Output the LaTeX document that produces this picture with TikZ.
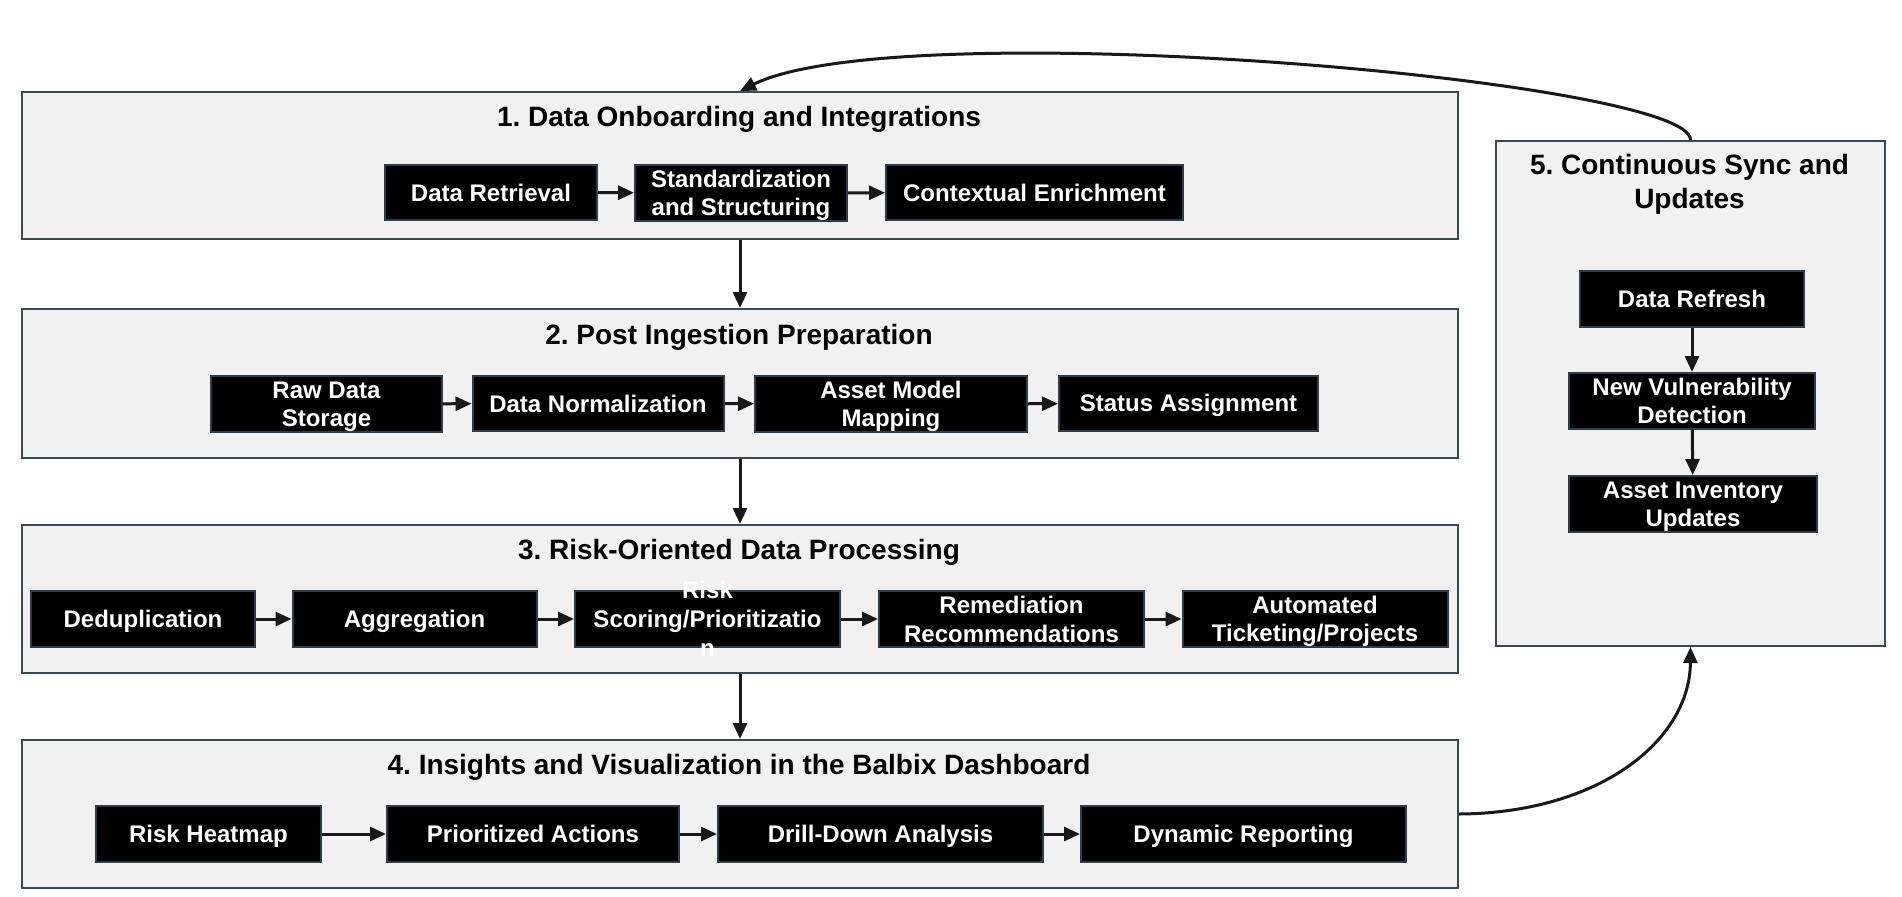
\documentclass[tikz,border=0pt]{standalone}
\usepackage{fontspec}
\setmainfont{Liberation Sans}
\usetikzlibrary{arrows.meta}
\frenchspacing
\definecolor{cfill}{HTML}{F1F1F1}
\definecolor{cborder}{HTML}{3A4A55}
\definecolor{bborder}{HTML}{2C3E4C}
\newcommand\zs{\rule[-2.4pt]{0pt}{13.4pt}}
\newcommand\zt{\rule[-2.5pt]{0pt}{15pt}}
\tikzset{
  container/.style={draw=cborder, fill=cfill, line width=1pt, rectangle, anchor=north west, inner sep=0pt},
  proc/.style={draw=bborder, fill=black, line width=1pt, rectangle, anchor=north west, inner sep=0pt,
    text=white, align=center, font=\bfseries\fontsize{12}{14.4}\selectfont},
  ptext/.style={text=white, align=center, inner sep=0pt, font=\bfseries\fontsize{12}{14.4}\selectfont},
  title/.style={align=center, inner sep=0pt, font=\bfseries\fontsize{14}{16.8}\selectfont},
  arr/.style={-{Triangle[length=8pt,width=7pt]}, line width=1.5pt, draw=black!90},
}
\begin{document}
\begin{tikzpicture}[x=0.5pt,y=-0.5pt]
\useasboundingbox (0,0) rectangle (1902,896);
% containers
\node[container, minimum width=718pt, minimum height=73.5pt] (c1) at (21,91) {};
\node[container, minimum width=718pt, minimum height=74.5pt] (c2) at (21,308) {};
\node[container, minimum width=718pt, minimum height=74pt] (c3) at (21,524) {};
\node[container, minimum width=718pt, minimum height=74pt] (c4) at (21,739) {};
\node[container, minimum width=194.5pt, minimum height=252.5pt] (c5) at (1495,140) {};
% titles
\node[title] (t1) at (739,117) {\zt 1. Data Onboarding and Integrations};
\node[title] (t2) at (739,335) {\zt 2. Post Ingestion Preparation};
\node[title] (t3) at (739,550) {\zt 3. Risk-Oriented Data Processing};
\node[title] (t4) at (739,765) {\zt 4. Insights and Visualization in the Balbix Dashboard};
\node[title] (t5) at (1689.5,182) {\zt 5. Continuous Sync and\\\zt Updates};
% row 1
\node[proc, minimum width=106pt, minimum height=27.5pt] (dr) at (384,164) {\zs Data Retrieval};
\node[proc, minimum width=106pt, minimum height=27.5pt] (ss) at (634,164) {\zs Standardization\\\zs and Structuring};
\node[proc, minimum width=148.5pt, minimum height=27.5pt] (ce) at (885,164) {\zs Contextual Enrichment};
% row 2
\node[proc, minimum width=115.5pt, minimum height=27.5pt] (rds) at (210,375) {\zs Raw Data\\\zs Storage};
\node[proc, minimum width=125.5pt, minimum height=27.5pt] (dn) at (471.5,375) {\zs Data Normalization};
\node[proc, minimum width=136pt, minimum height=27.5pt] (amm) at (754,375) {\zs Asset Model\\\zs Mapping};
\node[proc, minimum width=129.5pt, minimum height=27.5pt] (sa) at (1058,375) {\zs Status Assignment};
% row 3
\node[proc, minimum width=112pt, minimum height=28pt] (dd) at (30,590) {\zs Deduplication};
\node[proc, minimum width=122pt, minimum height=28pt] (ag) at (291.5,590) {\zs Aggregation};
\node[proc, minimum width=132.5pt, minimum height=28pt] (rsp) at (574,590) {};
\node[ptext] (rsptext) at (rsp.center) {\zs Risk\\\zs Scoring/Prioritizatio\\\zs n};
\node[proc, minimum width=132.5pt, minimum height=28pt] (rr) at (878,590) {\zs Remediation\\\zs Recommendations};
\node[proc, minimum width=132.5pt, minimum height=28pt] (atp) at (1181.5,590) {\zs Automated\\\zs Ticketing/Projects};
% row 4
\node[proc, minimum width=112.5pt, minimum height=28pt] (rh) at (95,805) {\zs Risk Heatmap};
\node[proc, minimum width=146pt, minimum height=28pt] (pa) at (386,805) {\zs Prioritized Actions};
\node[proc, minimum width=162.5pt, minimum height=28pt] (dda) at (717,805) {\zs Drill-Down Analysis};
\node[proc, minimum width=162.5pt, minimum height=28pt] (dyn) at (1080,805) {\zs Dynamic Reporting};
% column 5
\node[proc, minimum width=112pt, minimum height=28pt] (drf) at (1579,270) {\zs Data Refresh};
\node[proc, minimum width=123pt, minimum height=27.5pt] (nvd) at (1568,372) {\zs New Vulnerability\\\zs Detection};
\node[proc, minimum width=124pt, minimum height=28pt] (aiu) at (1568,475) {\zs Asset Inventory\\\zs Updates};
% connectors
\draw[arr] (dr) -- (ss);
\draw[arr] (ss) -- (ce);
\draw[arr] (rds) -- (dn);
\draw[arr] (dn) -- (amm);
\draw[arr] (amm) -- (sa);
\draw[arr] (dd) -- (ag);
\draw[arr] (ag) -- (rsp);
\draw[arr] (rsp) -- (rr);
\draw[arr] (rr) -- (atp);
\draw[arr] (rh) -- (pa);
\draw[arr] (pa) -- (dda);
\draw[arr] (dda) -- (dyn);
\draw[arr] (drf) -- (nvd);
\draw[arr] (nvd) -- (aiu);
\draw[arr] (c1.south) -- (c2.north);
\draw[arr] (c2.south) -- (c3.north);
\draw[arr] (c3.south) -- (c4.north);
\draw[arr] (c4.east) .. controls (1600,813) and (1690,740) .. (c5.south);
\draw[arr] (c5.north) .. controls (1692,80) and (900,12) .. (c1.north);
\end{tikzpicture}
\end{document}
